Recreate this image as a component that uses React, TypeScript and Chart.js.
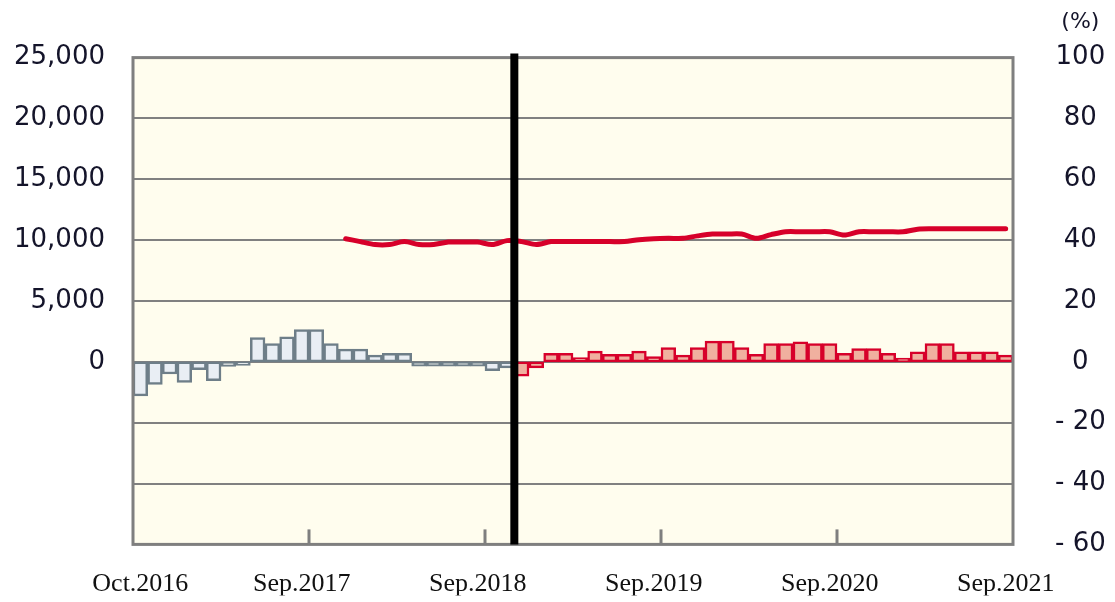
import React, { useEffect, useRef } from "react";
import { Chart, registerables } from "chart.js";
Chart.register(...registerables);

const monthNames = ["Jan", "Feb", "Mar", "Apr", "May", "Jun", "Jul", "Aug", "Sep", "Oct", "Nov", "Dec"];
const firstYear = 2016;
const firstMonthIndex = 9; // October
const monthCount = 60;
const months: string[] = Array.from({ length: monthCount }, (_, i) => {
  const m = (firstMonthIndex + i) % 12;
  const y = firstYear + Math.floor((firstMonthIndex + i) / 12);
  return `${monthNames[m]}.${y}`;
});

// number of months drawn in gray (before the divider)
const grayCount = 26;

// year-on-year change (%), right axis
const changePct = [
  -11.2, -7.4, -4.0, -6.8, -2.6, -6.2, -1.5, -1.2, 8.0, 6.0, 8.2, 10.6,
  10.6, 6.0, 4.2, 4.2, 2.2, 2.8, 2.8, -1.4, -1.4, -1.4, -1.4, -1.4,
  -2.9, -2.0, -4.7, -2.0, 2.8, 2.8, 1.4, 3.5, 2.5, 2.5, 3.5, 1.7,
  4.7, 2.2, 4.7, 6.8, 6.8, 4.7, 2.5, 6.0, 6.0, 6.6, 6.0, 6.0,
  2.8, 4.4, 4.4, 2.8, 1.2, 3.3, 6.0, 6.0, 3.3, 3.3, 3.3, 2.2,
];

// level (left axis)
const levelValues: (number | null)[] = [
  null, null, null, null, null, null, null, null, null, null, null, null,
  null, null, 10120, 9880, 9640, 9640, 9880, 9640, 9640, 9840, 9840, 9840,
  9640, 9960, 9880, 9640, 9880, 9880, 9880, 9880, 9880, 9880, 10040, 10120,
  10150, 10150, 10350, 10500, 10500, 10500, 10150, 10450, 10690, 10690, 10690, 10690,
  10420, 10690, 10690, 10690, 10690, 10900, 10930, 10930, 10930, 10930, 10930, 10930,
];

const leftTicks = { min: -15000, max: 25000, step: 5000 };
const rightTicks = { min: -60, max: 100, step: 20 };

const plotBg = "#FFFDEE";
const frameColor = "#7F7F7F";
const grayFill = "#E9EEF4";
const grayEdge = "#6E7E88";
const redFill = "#F0B09F";
const redEdge = "#D7002A";
const lineColor = "#D7002A";
const axisTextColor = "#14142a";

const yFont = { family: "'DejaVu Sans', Verdana, sans-serif", size: 26 };
const xFont = { family: "'Liberation Serif', 'Times New Roman', serif", size: 26 };
const rightPad = 42;

const overlayPlugin = {
  id: "overlay",
  beforeDraw(chart: any) {
    const { ctx, chartArea: a } = chart;
    ctx.save();
    ctx.fillStyle = plotBg;
    ctx.fillRect(a.left, a.top, a.right - a.left, a.bottom - a.top);
    ctx.restore();
  },
  afterDraw(chart: any) {
    const { ctx, chartArea: a, scales } = chart;
    const x = scales.x;
    const boundary = (i: number) => (x.getPixelForValue(i) + x.getPixelForValue(i + 1)) / 2;
    ctx.save();
    ctx.strokeStyle = frameColor;
    ctx.lineWidth = 3;
    ctx.strokeRect(a.left, a.top, a.right - a.left, a.bottom - a.top);
    // inner tick marks at the end of each September
    months.forEach((m, i) => {
      if (m.startsWith("Sep") && i < months.length - 1) {
        const px = boundary(i);
        ctx.beginPath();
        ctx.moveTo(px, a.bottom);
        ctx.lineTo(px, a.bottom - 15);
        ctx.stroke();
      }
    });
    // divider
    const dx = boundary(grayCount - 1);
    ctx.strokeStyle = "#000";
    ctx.lineWidth = 8;
    ctx.beginPath();
    ctx.moveTo(dx, a.top - 4);
    ctx.lineTo(dx, a.bottom);
    ctx.stroke();
    // (%) unit label
    const y1 = scales.y1;
    ctx.font = `${yFont.size}px ${yFont.family}`;
    const widest = ctx.measureText("- 60").width;
    ctx.font = `22px ${yFont.family}`;
    ctx.fillStyle = axisTextColor;
    ctx.textAlign = "center";
    ctx.textBaseline = "middle";
    ctx.fillText("(%)", y1.left + rightPad + widest / 2, 22);
    ctx.restore();
  },
};

export default function App() {
  const ref = useRef<HTMLCanvasElement>(null);
  useEffect(() => {
    if (!ref.current) return;
    const chart = new Chart(ref.current, {
      type: "bar",
      data: {
        labels: months,
        datasets: [
          {
            type: "line",
            label: "level",
            data: levelValues,
            yAxisID: "y",
            borderColor: lineColor,
            borderWidth: 5,
            pointRadius: 0,
            tension: 0.3,
            borderCapStyle: "round",
            borderJoinStyle: "round",
            spanGaps: false,
            order: 0,
          } as any,
          {
            type: "bar",
            label: "change",
            data: changePct,
            yAxisID: "y1",
            backgroundColor: changePct.map((_, i) => (i < grayCount ? grayFill : redFill)),
            borderColor: changePct.map((_, i) => (i < grayCount ? grayEdge : redEdge)),
            borderWidth: 2.5,
            borderSkipped: false,
            barPercentage: 1,
            categoryPercentage: 1,
            order: 1,
          } as any,
        ],
      },
      options: {
        animation: false,
        responsive: true,
        maintainAspectRatio: false,
        layout: { padding: { top: 57, right: 0, bottom: 0, left: 0 } },
        plugins: { legend: { display: false }, tooltip: { enabled: false } },
        scales: {
          x: {
            offset: true,
            grid: { display: false, drawTicks: false },
            border: { display: false },
            ticks: {
              autoSkip: false,
              maxRotation: 0,
              minRotation: 0,
              padding: 24,
              color: "#111",
              font: xFont,
              callback: (_v: any, i: number) =>
                i === 0 || months[i].startsWith("Sep") ? months[i] : "",
            },
            afterFit: (s: any) => {
              s.height = 51;
            },
          },
          y: {
            position: "left",
            min: leftTicks.min,
            max: leftTicks.max,
            grid: { color: "#808080", lineWidth: 2, drawTicks: false },
            border: { display: false },
            ticks: {
              stepSize: leftTicks.step,
              padding: 28,
              color: axisTextColor,
              font: yFont,
              callback: (v: any) => (v >= 0 ? Number(v).toLocaleString("en-US") : ""),
            },
            afterFit: (s: any) => {
              s.width = 133;
            },
          },
          y1: {
            position: "right",
            min: rightTicks.min,
            max: rightTicks.max,
            grid: { display: false, drawTicks: false },
            border: { display: false },
            ticks: {
              stepSize: rightTicks.step,
              padding: rightPad,
              crossAlign: "center",
              color: axisTextColor,
              font: yFont,
              callback: (v: any) => (v < 0 ? `- ${Math.abs(v)}` : `${v}`),
            },
            afterFit: (s: any) => {
              s.width = 102;
            },
          },
        },
      } as any,
      plugins: [overlayPlugin],
    });
    return () => chart.destroy();
  }, []);
  return (
    <div style={{ position: "absolute", left: 0, top: 0, width: 1115, height: 602, background: "#fff" }}>
      <canvas ref={ref} />
    </div>
  );
}
